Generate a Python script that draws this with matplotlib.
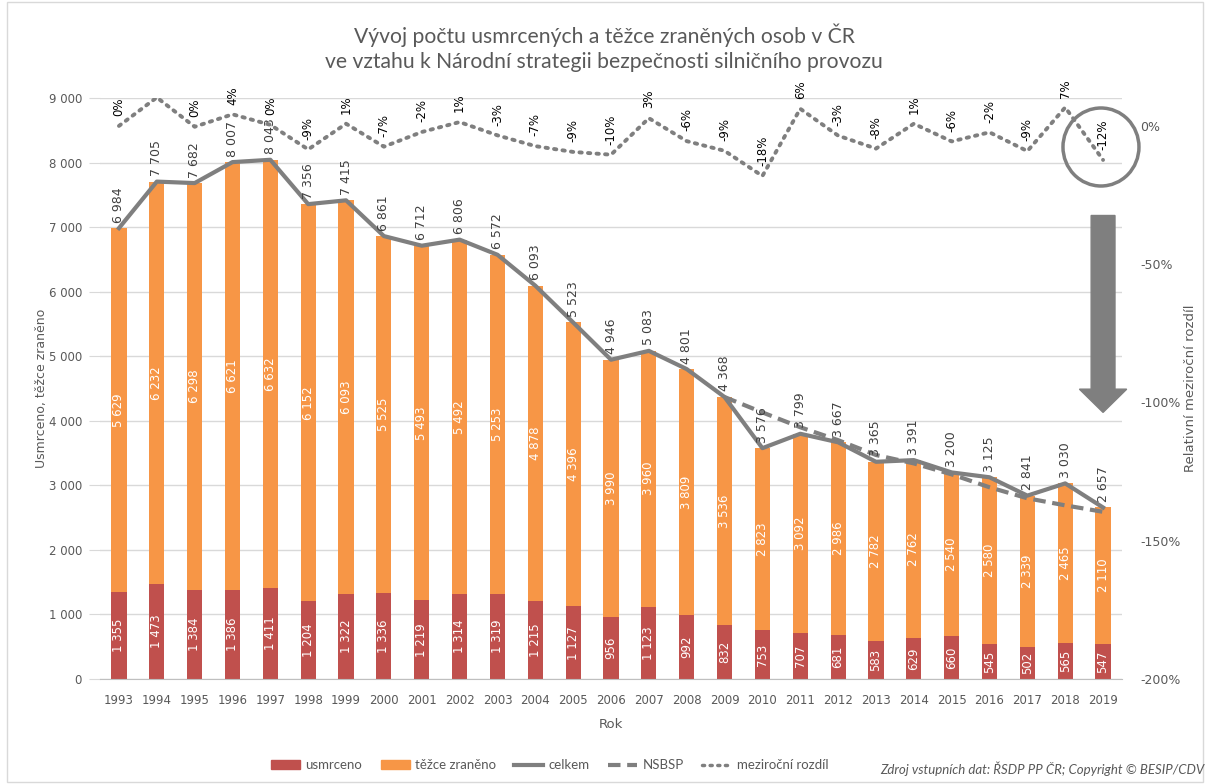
import numpy as np
import matplotlib
matplotlib.use('Agg')
import matplotlib.pyplot as plt
from matplotlib.patches import FancyArrow, Ellipse, Rectangle
from matplotlib.lines import Line2D
from matplotlib.patches import Patch

plt.rcParams['font.family'] = ['DejaVu Sans']

# data
roky = [str(r) for r in range(1993, 2020)]
usmrceno = [1355, 1473, 1384, 1386, 1411, 1204, 1322, 1336, 1219, 1314, 1319, 1215, 1127,
            956, 1123, 992, 832, 753, 707, 681, 583, 629, 660, 545, 502, 565, 547]
zraneno = [5629, 6232, 6298, 6621, 6632, 6152, 6093, 5525, 5493, 5492, 5253, 4878, 4396,
           3990, 3960, 3809, 3536, 2823, 3092, 2986, 2782, 2762, 2540, 2580, 2339, 2465, 2110]
celkem = [6984, 7705, 7682, 8007, 8043, 7356, 7415, 6861, 6712, 6806, 6572, 6093, 5523,
          4946, 5083, 4801, 4368, 3576, 3799, 3667, 3365, 3391, 3200, 3125, 2841, 3030, 2657]
nsbsp = [np.nan] * 16 + [4368, 4130, 3900, 3700, 3470, 3340, 3170, 2970, 2800, 2690, 2590]
rozdil = [0.0, 0.103, -0.003, 0.042, 0.004, -0.085, 0.008, -0.075, -0.022, 0.014, -0.034,
          -0.073, -0.094, -0.104, 0.028, -0.055, -0.090, -0.181, 0.062, -0.035, -0.082,
          0.008, -0.056, -0.023, -0.091, 0.067, -0.123]
rozdil_txt = ["0%", "", "0%", "4%", "0%", "-9%", "1%", "-7%", "-2%", "1%", "-3%", "-7%",
              "-9%", "-10%", "3%", "-6%", "-9%", "-18%", "6%", "-3%", "-8%", "1%", "-6%",
              "-2%", "-9%", "7%", "-12%"]

c_red = '#c0504d'
c_orange = '#f79646'
c_gray = '#7f7f7f'
c_text = '#595959'
calibri = ['Lato', 'DejaVu Sans']


def fmt(v):
    return f"{v:,}".replace(",", " ")


fig = plt.figure(figsize=(12.08, 7.84), dpi=100)
ax = fig.add_axes([0.0828, 0.1339, 0.846, 0.7411])
x = np.arange(len(roky))
w = 0.4

ax.bar(x, usmrceno, w, color=c_red, zorder=2)
ax.bar(x, zraneno, w, bottom=usmrceno, color=c_orange, zorder=2)
ax.plot(x, celkem, color=c_gray, lw=3, zorder=4)
ax.plot(x, nsbsp, color=c_gray, lw=3, ls=(0, (3, 1.6)), zorder=4)

for i in x:
    ax.text(i, usmrceno[i] / 2, fmt(usmrceno[i]), rotation=90, ha='center', va='center',
            color='white', fontsize=8.5, zorder=5)
    ax.text(i, usmrceno[i] + zraneno[i] / 2, fmt(zraneno[i]), rotation=90, ha='center',
            va='center', color='white', fontsize=8.5, zorder=5)
    ax.annotate(fmt(celkem[i]), (i, celkem[i]), xytext=(0, 4), textcoords='offset points',
                rotation=90, ha='center', va='bottom', color='#404040', fontsize=9, zorder=5)

ax.set_xlim(-0.5, len(roky) - 0.5)
ax.set_ylim(0, 9000)
ax.set_yticks(range(0, 9001, 1000))
ax.set_yticklabels([fmt(v) for v in range(0, 9001, 1000)])
ax.set_xticks(x)
ax.set_xticklabels(roky)
ax.tick_params(axis='y', colors=c_text, labelsize=8.5, length=8, color='#d9d9d9', pad=5)
ax.tick_params(axis='x', colors=c_text, labelsize=8.5, length=0, pad=11)
ax.grid(axis='y', color='#d9d9d9', lw=1, zorder=0)
ax.set_axisbelow(True)
for s in ['top', 'right', 'left']:
    ax.spines[s].set_visible(False)
ax.spines['bottom'].set_color('#bfbfbf')
ax.set_ylabel('Usmrceno, těžce zraněno', color=c_text, fontsize=9)
ax.yaxis.set_label_coords(-0.051, 0.5)
ax.set_xlabel('Rok', color=c_text, fontsize=9.5, labelpad=8)

# sekundarni osa
ax2 = ax.twinx()
ax2.plot(x, rozdil, color=c_gray, lw=2.8, ls=(0, (0.6, 1.6)), dash_capstyle='round', zorder=3)
for i in x:
    if rozdil_txt[i]:
        ax2.annotate(rozdil_txt[i], (i, rozdil[i]), xytext=(0, 7), textcoords='offset points',
                     rotation=90, ha='center', va='bottom', color='black', fontsize=8.5)
ax2.set_ylim(-2.0, 0.101)
ax2.set_yticks([0, -0.5, -1.0, -1.5, -2.0])
ax2.set_yticklabels(['0%', '-50%', '-100%', '-150%', '-200%'])
ax2.tick_params(axis='y', colors=c_text, labelsize=9, length=0, pad=13)
for s in ax2.spines.values():
    s.set_visible(False)
ax2.set_ylabel('Relativní meziroční rozdíl', color=c_text, fontsize=9.5)
ax2.yaxis.set_label_coords(1.061, 0.5)

# sipka a kruh
ax.add_patch(FancyArrow(26, 7180, 0, -3050, width=0.63, head_width=1.25, head_length=360,
                        length_includes_head=True, color=c_gray, zorder=6, clip_on=False))
fig.patches.append(Ellipse((0.9114, 0.8125), 0.0629, 0.0995, transform=fig.transFigure,
                           fill=False, ec=c_gray, lw=2.5))

fig.suptitle('Vývoj počtu usmrcených a těžce zraněných osob v ČR\n'
             've vztahu k Národní strategii bezpečnosti silničního provozu',
             y=0.97, fontsize=15.2, color=c_text, linespacing=1.3, family=calibri)

handles = [Patch(color=c_red), Patch(color=c_orange),
           Line2D([], [], color=c_gray, lw=3),
           Line2D([], [], color=c_gray, lw=3, ls=(0, (3, 1.6))),
           Line2D([], [], color=c_gray, lw=2.5, ls=(0, (0.6, 1.6)), dash_capstyle='round')]
leg = fig.legend(handles, ['usmrceno', 'těžce zraněno', 'celkem', 'NSBSP', 'meziroční rozdíl'],
                 loc='center', bbox_to_anchor=(0.455, 0.024), ncol=5, frameon=False,
                 prop={'family': calibri, 'size': 9.5}, handlelength=2.2,
                 columnspacing=1.4, handletextpad=0.4)
for t in leg.get_texts():
    t.set_color(c_text)

fig.text(0.997, 0.02, 'Zdroj vstupních dat: ŘSDP PP ČR; Copyright © BESIP/CDV', ha='right',
         va='center', fontsize=9.5, style='italic', color=c_text, family=calibri)

fig.patches.append(Rectangle((0.006, 0.003), 0.99, 0.994, transform=fig.transFigure,
                             fill=False, ec='#d9d9d9', lw=1))

fig.savefig('out.png', dpi=100)
